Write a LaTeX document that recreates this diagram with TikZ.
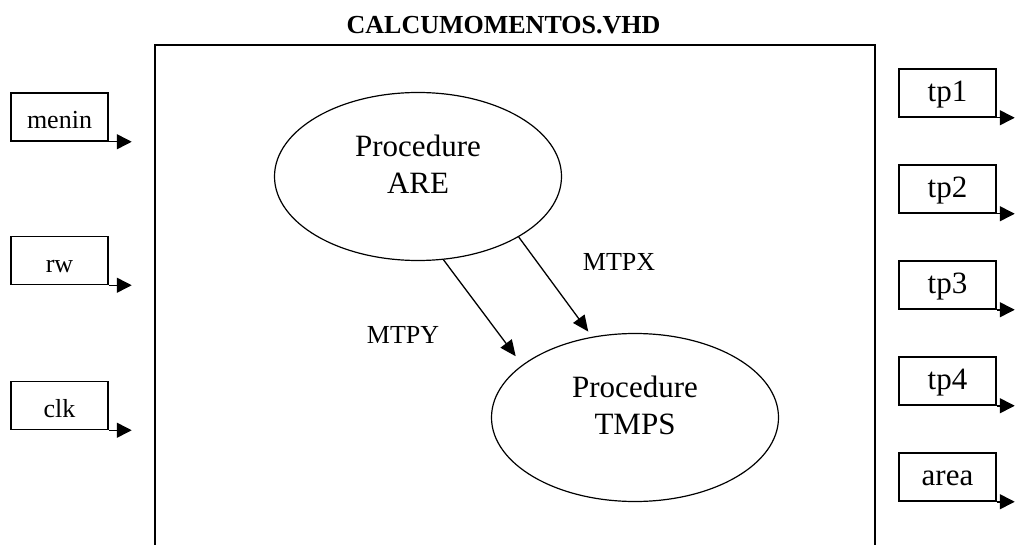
\documentclass[tikz,border=0pt]{standalone}
\usepackage{fontspec}
\setmainfont{Liberation Serif}
\usetikzlibrary{shapes.geometric,arrows.meta}
\tikzset{
  inbox/.style={draw, line width=0.75pt, minimum width=48.5pt, minimum height=24pt,
    inner sep=0pt, text height=11.5pt, text depth=0pt, font=\fontsize{13}{15}\selectfont},
  outbox/.style={draw, line width=0.75pt, minimum width=48.5pt, minimum height=24pt,
    inner sep=0pt, text height=8.5pt, text depth=0pt, font=\fontsize{15.5}{18}\selectfont},
  proc/.style={draw, ellipse, line width=0.6pt, minimum width=143.5pt, minimum height=84pt, inner sep=0pt},
  proctext/.style={align=center, inner sep=0pt, font=\fontsize{15.5}{18.5}\selectfont},
  sig/.style={-{Triangle[length=7.5pt,width=7.5pt]}, line width=0.75pt},
  flow/.style={-{Triangle[length=8pt,width=7pt]}, line width=0.65pt},
  lbl/.style={inner sep=0pt, font=\fontsize{13}{15}\selectfont}
}
\begin{document}
\begin{tikzpicture}[x=0.5pt,y=-0.5pt]
  \useasboundingbox (0,0) rectangle (1016,545);
  % entity frame (open at the bottom)
  \draw[line width=0.85pt] (155,545) -- (155,45) -- (875,45) -- (875,545);
  \node[inner sep=0pt, font=\bfseries\fontsize{13}{15}\selectfont] (title) at (503.5,25) {CALCUMOMENTOS.VHD};
  % inputs
  \foreach \name/\y in {menin/117,rw/260.5,clk/405.5} {
    \node[inbox] (\name) at (59.5,\y) {\name};
    \draw[sig] (\name.south east) -- ++(23,0);
  }
  % outputs
  \foreach \name [count=\n] in {tp1,tp2,tp3,tp4,area} {
    \node[outbox] (\name) at (947.5,-3+96*\n) {\name};
    \draw[sig] (\name.south east) -- ++(18,0);
  }
  % procedures
  \node[proc, label={[proctext,yshift=6pt]center:Procedure\\ARE}] (are) at (418,176.5) {};
  \node[proc, label={[proctext,yshift=6pt]center:Procedure\\TMPS}] (tmps) at (635,417.5) {};
  \draw[flow, shorten >=5.4pt] (are.-73.5) -- (tmps.155.5);
  \draw[flow, shorten >=3.2pt] (are.-31.4) -- (tmps.118.8);
  \node[lbl] (mtpx) at (619,261.5) {MTPX};
  \node[lbl] (mtpy) at (403,335) {MTPY};
\end{tikzpicture}
\end{document}
